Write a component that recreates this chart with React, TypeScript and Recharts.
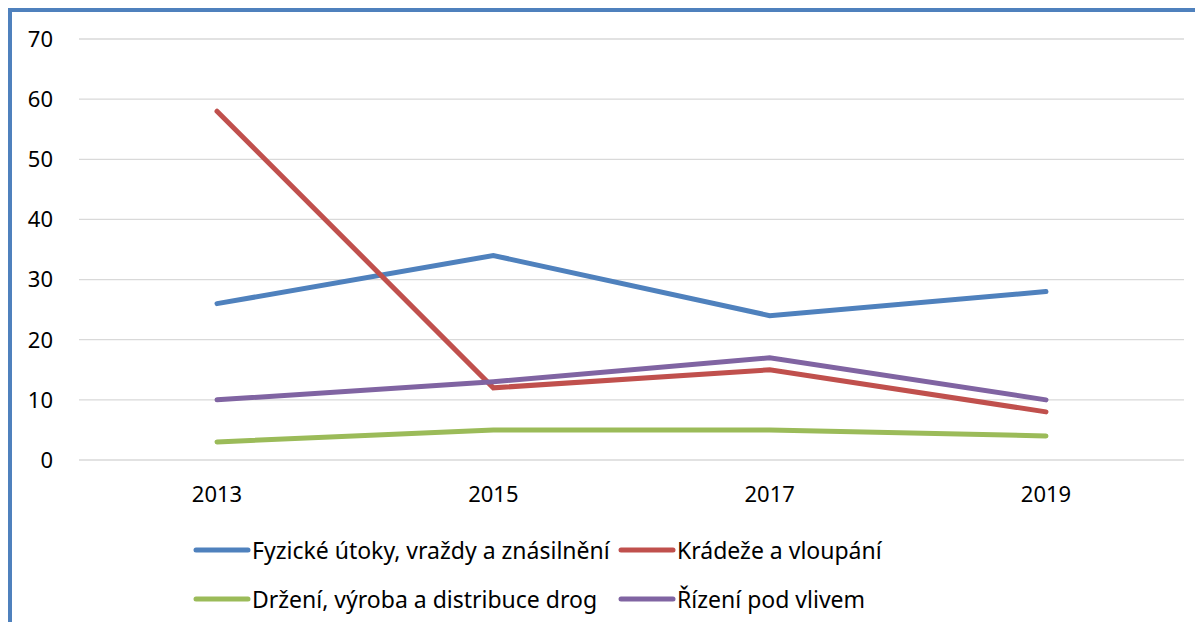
import { LineChart, Line, XAxis, YAxis, CartesianGrid, Legend } from 'recharts'

const years = ['2013', '2015', '2017', '2019']
const fyzicke = [26, 34, 24, 28]
const kradeze = [58, 12, 15, 8]
const drogy = [3, 5, 5, 4]
const rizeni = [10, 13, 17, 10]
const yTicks = [0, 10, 20, 30, 40, 50, 60, 70]

const series = [
  { key: 'fyzicke', name: 'Fyzické útoky, vraždy a znásilnění', color: '#4F81BD' },
  { key: 'kradeze', name: 'Krádeže a vloupání', color: '#C0504D' },
  { key: 'drogy', name: 'Držení, výroba a distribuce drog', color: '#9BBB59' },
  { key: 'rizeni', name: 'Řízení pod vlivem', color: '#8064A2' },
]

const data = years.map((year, i) => ({
  year,
  fyzicke: fyzicke[i],
  kradeze: kradeze[i],
  drogy: drogy[i],
  rizeni: rizeni[i],
}))

const FONT = '"Noto Sans", Lato, sans-serif'

function LegendBox() {
  return (
    <div
      style={{
        display: 'grid',
        gridTemplateColumns: '425px auto',
        gridAutoRows: '49px',
        alignItems: 'center',
        fontFamily: FONT,
        fontSize: 23,
        color: '#000',
      }}
    >
      {series.map((s) => (
        <div key={s.key} style={{ display: 'flex', alignItems: 'center', whiteSpace: 'nowrap' }}>
          <svg width={58} height={8} style={{ marginRight: 1 }}>
            <line x1={3} y1={4} x2={55} y2={4} stroke={s.color} strokeWidth={5} strokeLinecap="round" />
          </svg>
          <span>{s.name}</span>
        </div>
      ))}
    </div>
  )
}

export default function App() {
  return (
    <div
      style={{
        width: 1191,
        height: 610,
        borderLeft: '4px solid #4F81BD',
        borderTop: '4px solid #4F81BD',
        background: '#fff',
      }}
    >
      <LineChart
        width={1191}
        height={610}
        data={data}
        margin={{ top: 27, right: 19, left: 0, bottom: 102 }}
      >
        <CartesianGrid vertical={false} stroke="#D9D9D9" strokeWidth={1.3} />
        <XAxis
          dataKey="year"
          axisLine={false}
          tickLine={false}
          tickSize={0}
          tickMargin={26}
          height={60}
          padding={{ left: 138, right: 138 }}
          tick={{ fill: '#000', fontSize: 22, fontFamily: FONT }}
        />
        <YAxis
          domain={[0, 70]}
          ticks={yTicks}
          axisLine={false}
          tickLine={false}
          tickSize={0}
          tickMargin={26}
          width={67}
          tick={{ fill: '#000', fontSize: 22, fontFamily: FONT }}
        />
        <Legend
          layout="vertical"
          align="center"
          verticalAlign="middle"
          content={() => <LegendBox />}
          wrapperStyle={{ top: 513, left: 181, width: 'auto' }}
        />
        {series.map((s) => (
          <Line
            key={s.key}
            dataKey={s.key}
            name={s.name}
            stroke={s.color}
            strokeWidth={5}
            strokeLinecap="round"
            dot={false}
            activeDot={false}
            isAnimationActive={false}
          />
        ))}
      </LineChart>
    </div>
  )
}
